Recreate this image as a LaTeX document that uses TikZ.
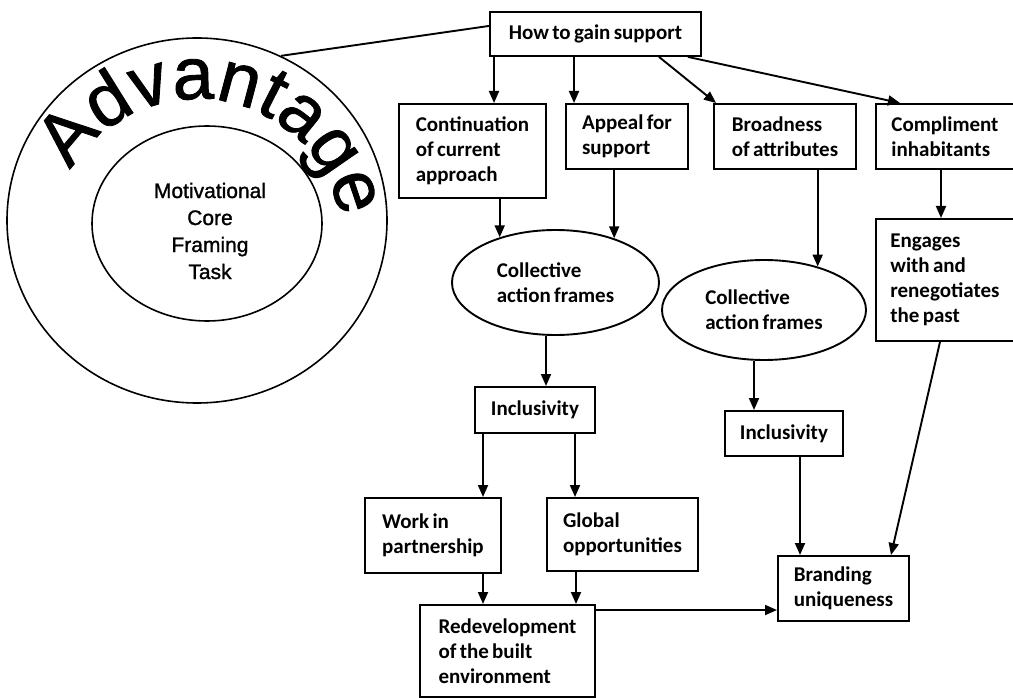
\documentclass[tikz,border=0pt]{standalone}
\usepackage{fontspec}
\usetikzlibrary{shapes.geometric, arrows.meta, decorations.text}
\newfontfamily\calfont{Carlito}[WordSpace=0.7]
\newfontfamily\arfont{Liberation Sans}[FakeBold=1.2]

\begin{document}
\begin{tikzpicture}[x=1pt, y=-1pt]
    \tikzset{
    stage/.style=
    {
        draw,
        line width=1.9pt,
        anchor=north west,
        inner xsep=8pt,
        inner ysep=0pt,
        align=left,
        font=\calfont\bfseries\fontsize{21}{25}\selectfont
    },
    frameoval/.style=
    {
        ellipse,
        draw,
        line width=1.9pt,
        inner sep=0pt,
        align=left,
        font=\calfont\bfseries\fontsize{21}{25}\selectfont
    },
    ring/.style=
    {
        ellipse,
        draw,
        line width=1.6pt,
        inner sep=0pt
    },
    link/.style=
    {
        line width=1.9pt,
        -{Triangle[length=12pt, width=10pt]}
    },
    tie/.style=
    {
        line width=1.9pt
    }
}
  \useasboundingbox (0,0) rectangle (1013,698);
  \clip (0,0) rectangle (1013,698);

  % the motivational core on the left
  \node[ring, minimum width=380pt, minimum height=365pt] (outer) at (197,220.5) {};
  \node[ring, minimum width=230pt, minimum height=195pt] (core) at (207,223.5) {};
  \node[align=center, font=\arfont\fontsize{21}{27}\selectfont] (motiv) at (210,231)
    {Motivational\\Core\\Framing\\Task};
  \path[decorate, decoration={text along path, text align=center,
      text={|\arfont\fontsize{74}{80}\selectfont|Advantage}}]
    (197,245) ++(-150:146) arc[start angle=-150, end angle=-10, radius=146];

  % boxes
  \node[stage, minimum width=211pt, minimum height=44pt, align=center] (top) at (489,11) {How to gain support};
  \node[stage, minimum width=147pt, minimum height=94pt] (cont) at (398,103) {Continuation\\of current\\approach};
  \node[stage, minimum width=122pt, minimum height=65pt] (appeal) at (565,103) {Appeal for\\support};
  \node[stage, minimum width=142pt, minimum height=65pt] (broad) at (713,103) {Broadness\\of attributes};
  \node[stage, minimum width=138pt, minimum height=65pt] (compl) at (875,103) {Compliment\\inhabitants};
  \node[stage, minimum width=138pt, minimum height=122pt] (eng) at (875,218) {Engages\\with and\\renegotiates\\the past};

  \node[frameoval, minimum width=207pt, minimum height=105pt] (ell1) at (555.5,282.5) {Collective\\action frames};
  \node[frameoval, minimum width=204pt, minimum height=100pt] (ell2) at (764,310) {Collective\\action frames};

  \node[stage, minimum width=120pt, minimum height=46pt, align=center] (incl1) at (474,386) {Inclusivity};
  \node[stage, minimum width=118pt, minimum height=45pt, align=center] (incl2) at (724,410) {Inclusivity};

  \node[stage, minimum width=136pt, minimum height=75pt] (work) at (364,497) {Work in\\partnership};
  \node[stage, minimum width=151pt, minimum height=73pt] (global) at (546,497) {Global\\opportunities};
  \node[stage, minimum width=175pt, minimum height=92pt] (redev) at (419,604) {Redevelopment\\of the built\\environment};
  \node[stage, minimum width=131pt, minimum height=65pt] (brand) at (777,555) {Branding\\uniqueness};

  % connectors
  \draw[tie] ([yshift=8pt]top.west) -- (outer.63);
  \draw[link] ([xshift=5pt]top.south west) -- ([xshift=5pt]top.south west |- cont.north);
  \draw[link] ([xshift=85pt]top.south west) -- ([xshift=85pt]top.south west |- appeal.north);
  \draw[link] ([xshift=170pt]top.south west) -- ([xshift=3pt]broad.north west);
  \draw[link] ([xshift=-14pt]top.south east) -- ([xshift=25pt]compl.north west);

  \draw[link] (cont.south -| ell1.141) -- (ell1.141);
  \draw[link] (appeal.south -| ell1.37) -- (ell1.37);
  \draw[link] (broad.south -| ell2.39) -- (ell2.39);
  \draw[link] ([xshift=66pt]compl.south west) -- ([xshift=66pt]compl.south west |- eng.north);

  \draw[link] ([xshift=-9.5pt]ell1.south) -- ([xshift=-9.5pt]ell1.south |- incl1.north);
  \draw[link] ([xshift=-10pt]ell2.south) -- ([xshift=-10pt]ell2.south |- incl2.north);

  \draw[link] ([xshift=9pt]incl1.south west) -- ([xshift=9pt]incl1.south west |- work.north);
  \draw[link] ([xshift=101pt]incl1.south west) -- ([xshift=101pt]incl1.south west |- global.north);
  \draw[link] ([xshift=119pt]work.south west) -- ([xshift=119pt]work.south west |- redev.north);
  \draw[link] ([xshift=30pt]global.south west) -- ([xshift=30pt]global.south west |- redev.north);

  \draw[link] ([yshift=-6pt]redev.north east) -- ([yshift=-6pt]redev.north east -| brand.west);
  \draw[link] ([xshift=76pt]incl2.south west) -- ([xshift=76pt]incl2.south west |- brand.north);
  \draw[link] ([xshift=65pt]eng.south west) -- ([xshift=114pt]brand.north west);

\end{tikzpicture}
\end{document}
